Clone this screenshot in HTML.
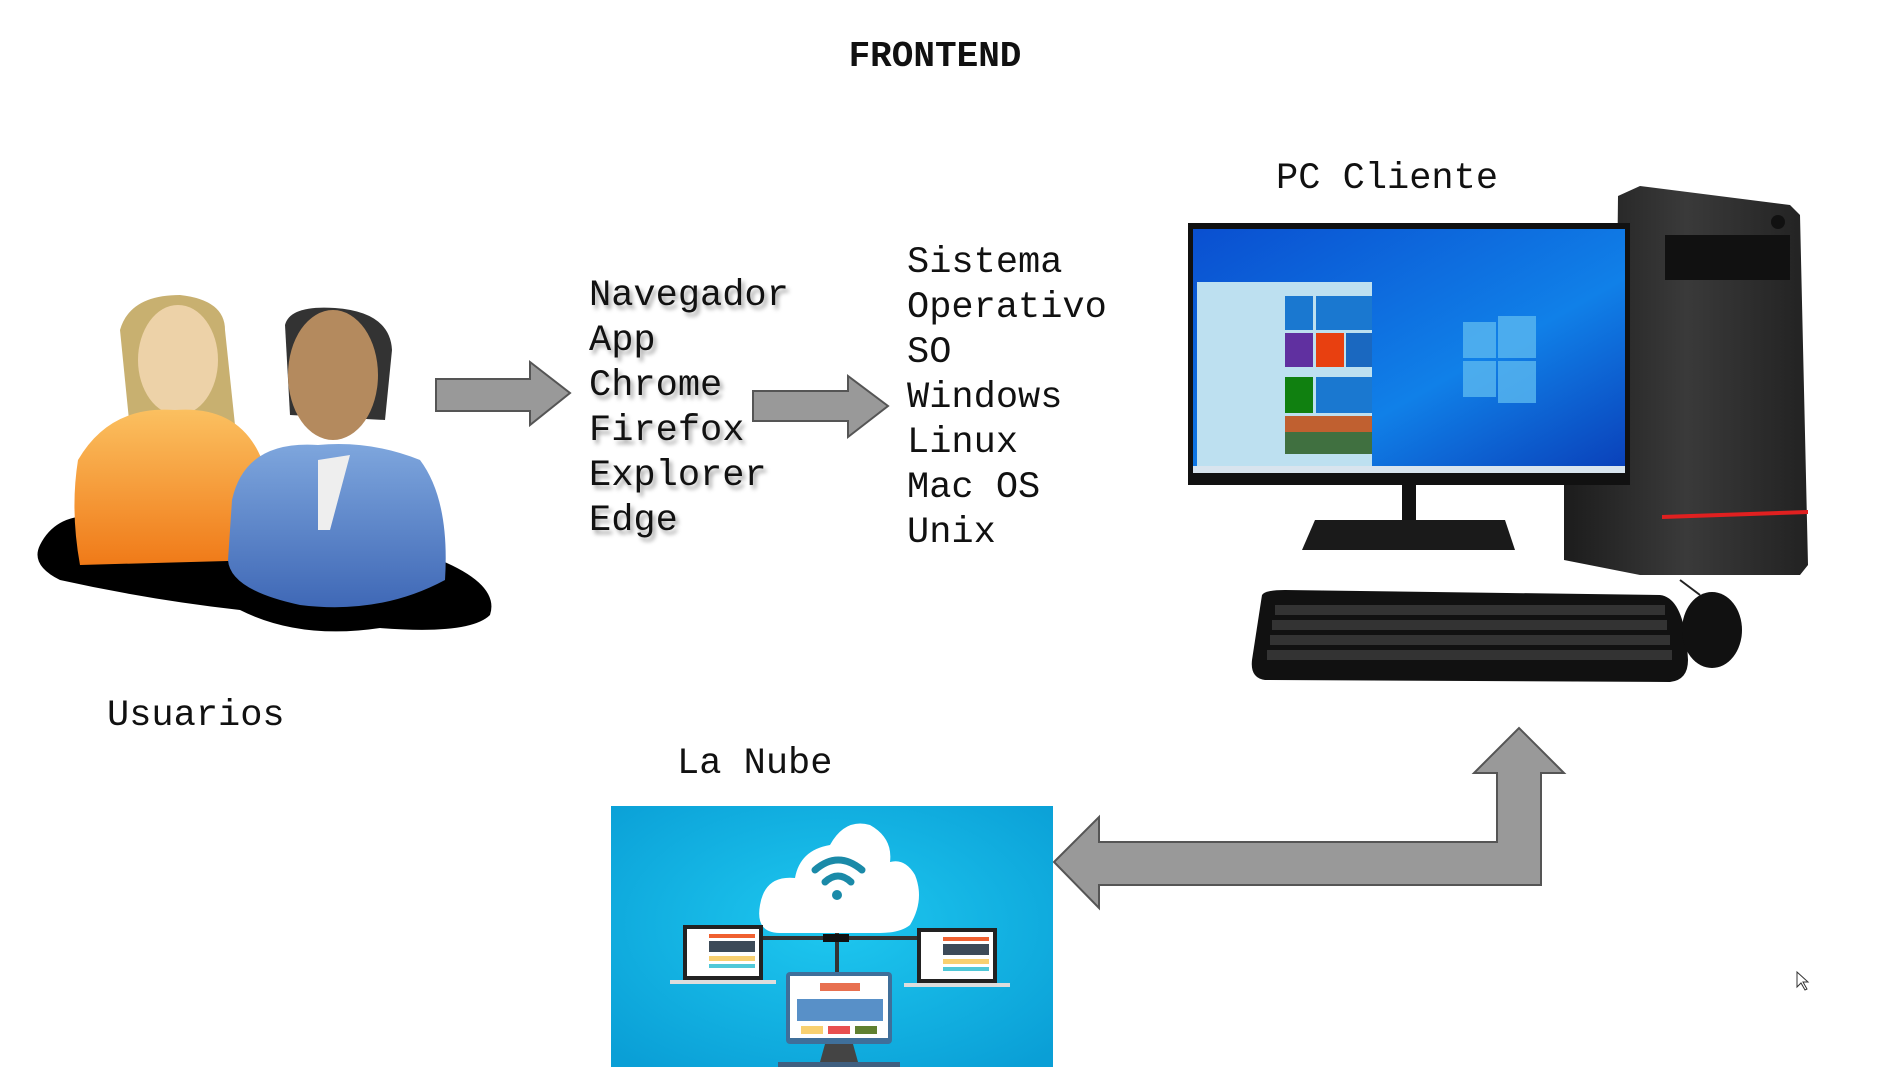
<!DOCTYPE html>
<html><head><meta charset="utf-8"><style>
html,body{margin:0;padding:0;background:#fff;}
#c{position:relative;width:1892px;height:1067px;overflow:hidden;background:#fff;font-family:"Liberation Mono",monospace;color:#111;}
.t{position:absolute;white-space:pre;font-size:37px;line-height:45px;}
.sh{text-shadow:3px 4px 4px rgba(0,0,0,0.35);}
svg{position:absolute;left:0;top:0;}
</style></head><body><div id="c">
<svg width="1892" height="1067" viewBox="0 0 1892 1067">
<defs>
<radialGradient id="bg" cx="50%" cy="45%" r="70%"><stop offset="0" stop-color="#1ec8f0"/><stop offset="1" stop-color="#0a9fd6"/></radialGradient>
<linearGradient id="scr" x1="0" y1="0" x2="1" y2="1"><stop offset="0" stop-color="#0a4fd0"/><stop offset="0.6" stop-color="#1080e8"/><stop offset="1" stop-color="#0a3fb8"/></linearGradient>
<linearGradient id="org" x1="0" y1="0" x2="0" y2="1"><stop offset="0" stop-color="#fbc060"/><stop offset="1" stop-color="#f07a18"/></linearGradient>
<linearGradient id="blu" x1="0" y1="0" x2="0" y2="1"><stop offset="0" stop-color="#7ea6dd"/><stop offset="1" stop-color="#3f68b6"/></linearGradient>
<linearGradient id="tw" x1="0" y1="0" x2="1" y2="0"><stop offset="0" stop-color="#1c1c1c"/><stop offset="0.5" stop-color="#3a3a3a"/><stop offset="1" stop-color="#222"/></linearGradient>
</defs>
<path d="M40 545 Q60 505 120 520 L440 560 Q500 585 490 615 Q470 635 380 628 Q300 640 240 610 Q150 600 60 580 Q30 565 40 545Z" fill="#000"/>
<path d="M120 330 Q130 295 180 295 Q225 300 225 330 L235 425 L210 430 L130 430 Z" fill="#c8b070"/>
<ellipse cx="178" cy="360" rx="40" ry="55" fill="#edd2a8"/>
<path d="M78 460 Q110 405 175 410 Q240 405 262 460 L262 560 L80 565 Q70 510 78 460Z" fill="url(#org)"/>
<path d="M285 325 Q290 305 335 308 Q390 312 392 350 L385 420 L290 415 Z" fill="#333"/>
<ellipse cx="333" cy="375" rx="45" ry="65" fill="#b48a5e"/>
<path d="M232 500 Q245 440 318 445 Q370 440 420 460 Q450 500 445 580 Q380 615 300 605 Q230 590 228 560Z" fill="url(#blu)"/>
<path d="M318 460 L350 455 L330 530 L318 530Z" fill="#eee"/>
<polygon points="436,379 530,379 530,362 570,393 530,425 530,411 436,411" fill="#999" stroke="#555" stroke-width="2"/>
<polygon points="753,391 848,391 848,376 888,406 848,437 848,421 753,421" fill="#999" stroke="#555" stroke-width="2"/>
<polygon points="1054,862 1099,817 1099,842 1497,842 1497,773 1474,773 1519,728 1564,773 1541,773 1541,885 1099,885 1099,908" fill="#999" stroke="#555" stroke-width="2"/>
<rect x="611" y="806" width="442" height="261" fill="url(#bg)"/>
<path d="M780 933 Q755 933 760 905 Q765 875 795 878 Q800 850 830 845 Q845 818 870 825 Q893 838 890 862 Q905 858 915 875 Q925 900 910 925 Q900 933 880 933Z" fill="#fff"/>
<path d="M815 870 Q838 850 862 870" stroke="#1a8aa8" stroke-width="7" fill="none" stroke-linecap="round"/>
<path d="M825 882 Q838 870 851 882" stroke="#1a8aa8" stroke-width="7" fill="none" stroke-linecap="round"/>
<circle cx="837" cy="895" r="5" fill="#1a8aa8"/>
<rect x="835" y="933" width="4" height="60" fill="#333"/>
<rect x="760" y="936" width="160" height="4" fill="#333"/>
<rect x="823" y="934" width="26" height="8" fill="#111"/>
<rect x="683" y="925" width="80" height="55" fill="#222"/><rect x="687" y="929" width="72" height="47" fill="#fff"/>
<rect x="709" y="934" width="46" height="4" fill="#f06030"/><rect x="709" y="941" width="46" height="11" fill="#3c4a58"/><rect x="709" y="956" width="46" height="5" fill="#f8d070"/><rect x="709" y="964" width="46" height="4" fill="#50c8d8"/>
<rect x="670" y="980" width="106" height="4" fill="#ddd"/>
<rect x="917" y="928" width="80" height="55" fill="#222"/><rect x="921" y="932" width="72" height="47" fill="#fff"/>
<rect x="943" y="937" width="46" height="4" fill="#f06030"/><rect x="943" y="944" width="46" height="11" fill="#3c4a58"/><rect x="943" y="959" width="46" height="5" fill="#f8d070"/><rect x="943" y="967" width="46" height="4" fill="#50c8d8"/>
<rect x="904" y="983" width="106" height="4" fill="#ddd"/>
<rect x="786" y="972" width="106" height="72" rx="4" fill="#3f6f9a"/><rect x="790" y="976" width="98" height="62" fill="#fff"/>
<rect x="820" y="983" width="40" height="8" fill="#e87050"/><rect x="797" y="999" width="86" height="22" fill="#5890c8"/>
<rect x="801" y="1026" width="22" height="8" fill="#f8d070"/><rect x="828" y="1026" width="22" height="8" fill="#e85050"/><rect x="855" y="1026" width="22" height="8" fill="#608030"/>
<polygon points="825,1044 853,1044 858,1062 820,1062" fill="#444"/><rect x="778" y="1062" width="122" height="5" fill="#3f5f80"/>
<polygon points="1618,196 1640,186 1790,205 1800,215 1808,565 1800,575 1640,575 1564,560 1564,470 1615,470" fill="url(#tw)"/>
<rect x="1665" y="235" width="125" height="45" fill="#111"/>
<polygon points="1662,515 1808,510 1808,514 1662,519" fill="#e02020"/>
<circle cx="1778" cy="222" r="7" fill="#111"/>
<rect x="1188" y="223" width="442" height="262" fill="#111"/>
<rect x="1193" y="229" width="432" height="244" fill="url(#scr)"/>
<g fill="#5ab8f0" opacity="0.8"><rect x="1463" y="322" width="33" height="36"/><rect x="1498" y="316" width="38" height="42"/><rect x="1463" y="361" width="33" height="36"/><rect x="1498" y="361" width="38" height="42"/></g>
<rect x="1197" y="282" width="175" height="185" fill="#bde0f0"/>
<g><rect x="1285" y="296" width="28" height="34" fill="#1a78d0"/><rect x="1316" y="296" width="56" height="34" fill="#1a78d0"/><rect x="1285" y="333" width="28" height="34" fill="#6030a0"/><rect x="1316" y="333" width="28" height="34" fill="#e84010"/><rect x="1346" y="333" width="26" height="34" fill="#1a68c0"/>
<rect x="1285" y="377" width="28" height="36" fill="#108010"/><rect x="1316" y="377" width="56" height="36" fill="#1a78d0"/><rect x="1285" y="416" width="87" height="36" fill="#c06030"/><rect x="1285" y="432" width="87" height="22" fill="#407040"/></g>
<rect x="1193" y="466" width="432" height="7" fill="#d8e4ee"/>
<rect x="1402" y="485" width="14" height="40" fill="#111"/>
<polygon points="1315,520 1505,520 1515,550 1302,550" fill="#1a1a1a"/>
<path d="M1262 595 Q1265 590 1285 590 L1660 595 Q1685 598 1688 660 Q1688 680 1670 682 L1265 680 Q1250 678 1252 660Z" fill="#111"/>
<g fill="#333"><rect x="1275" y="605" width="390" height="10"/><rect x="1272" y="620" width="395" height="10"/><rect x="1270" y="635" width="400" height="10"/><rect x="1267" y="650" width="405" height="10"/></g>
<ellipse cx="1712" cy="630" rx="30" ry="38" fill="#111"/>
<path d="M1700 595 L1680 580" stroke="#222" stroke-width="2"/>
<path d="M1797 972 L1797 987 L1801 983 L1805 990 L1807 989 L1803 982 L1808 982Z" fill="#fff" stroke="#333" stroke-width="1"/>
</svg>
<div class="t" style="left:0;width:1870px;text-align:center;top:34px;font-weight:bold;font-size:36px;">FRONTEND</div>
<div class="t" style="left:1276px;top:157px;">PC Cliente</div>
<div class="t sh" style="left:589px;top:274px;">Navegador
App
Chrome
Firefox
Explorer
Edge</div>
<div class="t" style="left:907px;top:241px;">Sistema
Operativo
SO
Windows
Linux
Mac OS
Unix</div>
<div class="t" style="left:107px;top:694px;">Usuarios</div>
<div class="t" style="left:677px;top:742px;">La Nube</div>
</div></body></html>
